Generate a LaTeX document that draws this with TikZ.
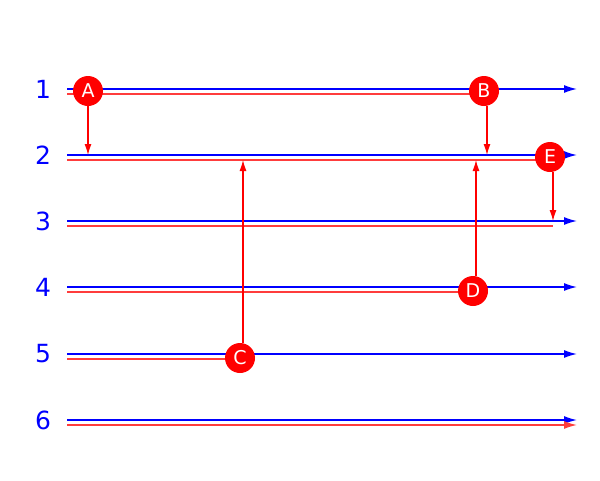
\documentclass[tikz,border=0pt]{standalone}
\usepackage{fontspec}
\setmainfont{DejaVu Sans}
\usetikzlibrary{arrows.meta}
\definecolor{lblue}{RGB}{0,0,255}
\definecolor{lred}{RGB}{255,0,0}
\definecolor{lred2}{RGB}{255,60,60}
\begin{document}
\begin{tikzpicture}[x=1pt,y=-1pt,
  bline/.style={draw=lblue,line width=1.4pt},
  rline/.style={draw=lred2,line width=1.4pt},
  barrow/.style={-{Latex[length=13pt,width=8pt]}},
  rarrow/.style={lred,line width=1.2pt,-{Latex[length=11pt,width=7pt]}},
  event/.style={circle,fill=lred,minimum size=30pt,inner sep=0pt,text=white,font=\fontsize{19}{19}\selectfont},
  rowlabel/.style={text=lblue,font=\fontsize{25}{25}\selectfont}]
\useasboundingbox (0,0) rectangle (600,480);
% row labels
\foreach \i/\y in {1/89,2/155,3/221,4/287,5/354,6/420}{
  \node[rowlabel] (L\i) at (43,\y) {\i};
  \coordinate (bs\i) at (67,\y);
  \coordinate (be\i) at (577,\y);
  \coordinate (rs\i) at (67,\y+5);
}
% blue lines
\foreach \i in {1,...,6}{
  \draw[bline,barrow] (bs\i) -- (be\i);
}
% red end points
\coordinate (re3) at (553,226);
\coordinate (re6) at (577,425);
% red lines
\draw[rline] (rs1) -- (484,94);
\draw[rline] (rs2) -- (549,160);
\draw[rline] (rs3) -- (re3);
\draw[rline] (rs4) -- (473,292);
\draw[rline] (rs5) -- (240,359);
\draw[rline,-{Latex[length=13pt,width=8pt]}] (rs6) -- (re6);
% events
\node[event] (A) at (88,91) {A};
\node[event] (B) at (484,91) {B};
\node[event] (E) at (550,157) {E};
\node[event] (D) at (473,291) {D};
\node[event] (C) at (240,358) {C};
% vertical arrows
\coordinate (a2) at (88,155);
\coordinate (b2) at (487,155);
\coordinate (e3) at (553,221);
\coordinate (c2) at (243,160);
\coordinate (d2) at (476,160);
\draw[rarrow] (A.south) -- (a2);
\draw[rarrow] (B.south -| b2) -- (b2);
\draw[rarrow] (E.south -| e3) -- (e3);
\draw[rarrow] (C.north -| c2) -- (c2);
\draw[rarrow] (D.north -| d2) -- (d2);
\end{tikzpicture}
\end{document}
